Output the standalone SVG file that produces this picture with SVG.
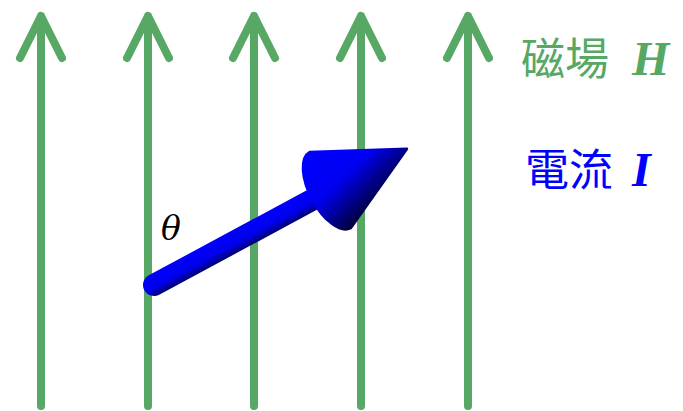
<svg xmlns="http://www.w3.org/2000/svg" width="683" height="411" viewBox="0 0 683 411">
<defs>
<style>
.field{fill:none;stroke:#57a765;stroke-width:8;stroke-linecap:round;stroke-linejoin:round}
.cjk{font-family:"Noto Sans CJK TC","Noto Sans CJK JP",sans-serif;font-size:44px}
.sym{font-family:"Liberation Serif",serif;font-style:italic;font-weight:bold;font-size:48px}
</style>
<linearGradient id="cone" x1="0" y1="0" x2="0.35" y2="1">
<stop offset="0" stop-color="#0000ff"/>
<stop offset="0.5" stop-color="#0000f2"/>
<stop offset="1" stop-color="#00002a"/>
</linearGradient>
<linearGradient id="shaft" x1="0" y1="0" x2="0" y2="1">
<stop offset="0" stop-color="#0000ff"/>
<stop offset="0.6" stop-color="#0000ee"/>
<stop offset="1" stop-color="#000070"/>
</linearGradient>
</defs>
<g id="field-lines">
<path class="field" d="M41,406 V16 M20,58 L41,16 L62,58"/>
<path class="field" d="M148,406 V16 M127,58 L148,16 L169,58"/>
<path class="field" d="M254,406 V16 M233,58 L254,16 L275,58"/>
<path class="field" d="M361,406 V16 M340,58 L361,16 L382,58"/>
<path class="field" d="M468,406 V16 M447,58 L468,16 L489,58"/>
</g>
<g id="current" transform="translate(154,285) rotate(-28.3)">
<path d="M0,-11 H200 V11 H0 A11,11 0 0 1 0,-11 Z" fill="url(#shaft)"/>
<path d="M200,-43 L287,0 L200,43 A20,43 0 0 1 200,-43 Z" fill="url(#cone)" stroke="url(#cone)" stroke-width="3" stroke-linejoin="round"/>
</g>
<g id="labels">
<text x="161" y="240" font-family="DejaVu Serif,serif" font-style="italic" font-size="33" fill="#000">θ</text>
<text class="cjk" x="521" y="75" fill="#57a765">磁場</text>
<text class="sym" x="632" y="75" fill="#57a765">H</text>
<text class="cjk" x="525" y="186" fill="#0000ff">電流</text>
<text class="sym" x="632" y="186" fill="#0000ff">I</text>
</g>
</svg>
